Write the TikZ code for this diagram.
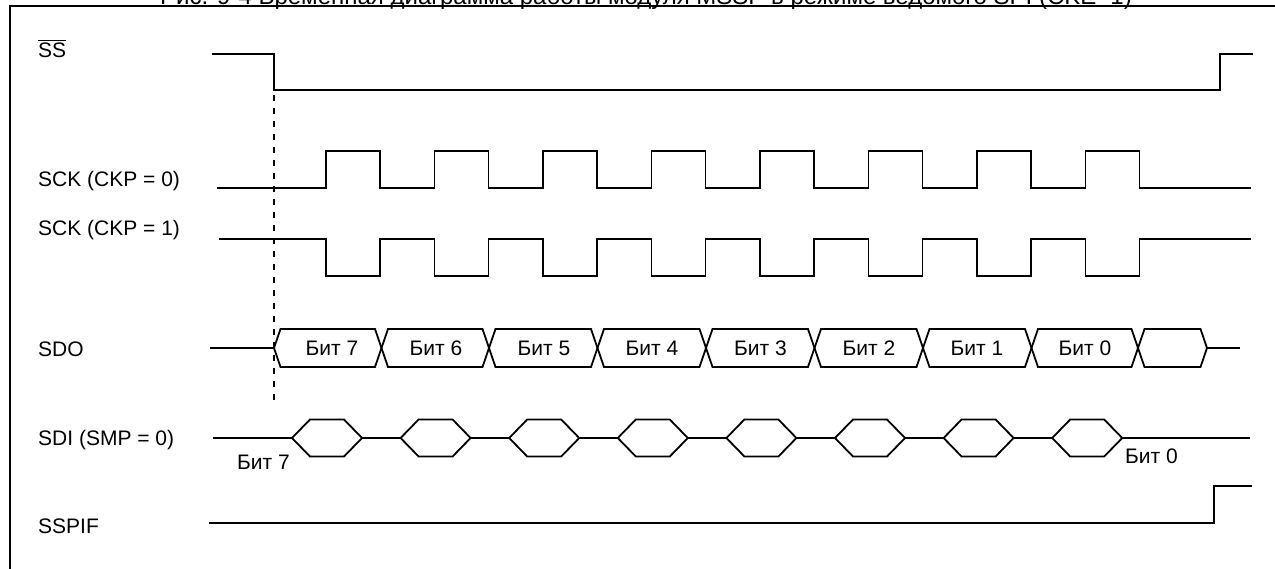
\documentclass[tikz,border=0pt]{standalone}
\usepackage{fontspec}
\usepackage{amsmath}
\setmainfont{Liberation Sans}

\begin{document}
\begin{tikzpicture}[
    x=1pt, y=-1pt,
    every node/.style={inner sep=0pt, font=\fontsize{21}{25}\selectfont},
    sig/.style={draw=black, line width=1.8pt, line join=miter},
    cell/.style={sig, fill=white},
    marker/.style={draw=black, line width=1.5pt, dash pattern=on 6pt off 7pt},
    frame/.style={draw=black, line width=1.6pt},
    rowlabel/.style={anchor=base west},
    bitlabel/.style={anchor=base}
]
\useasboundingbox (0,0) rectangle (1275,569);
\node[anchor=base, font=\fontsize{24}{28}\selectfont] (title) at (646,4.5) {Рис. 9-4 Временная диаграмма работы модуля MSSP в режиме ведомого SPI (CKE=1)};
\draw[frame] (10,569) -- (10,6) -- (1275,6);

\node[rowlabel] (lblss) at (38,58) {$\overline{\text{SS}}$};
\node[rowlabel] (lblsckzero) at (38,187) {SCK (CKP = 0)};
\node[rowlabel] (lblsckone) at (38,236) {SCK (CKP = 1)};
\node[rowlabel] (lblsdo) at (38,356) {SDO};
\node[rowlabel] (lblsdi) at (38,445) {SDI (SMP = 0)};
\node[rowlabel] (lblsspif) at (38,533) {SSPIF};

\draw[sig] (212,54) -- (274,54) -- (274,90) -- (1220,90) -- (1220,54) -- (1253,54);
\draw[sig] (217,188) \foreach \i in {0,...,7} { -- (326+108.5*\i,188) -- ++(0,-37) -- ++(54,0) -- ++(0,37) } -- (1251,188);
\draw[sig] (219,239) \foreach \i in {0,...,7} { -- (326+108.5*\i,239) -- ++(0,37) -- ++(54,0) -- ++(0,-37) } -- (1251,239);

\draw[sig] (210,348) -- (274,348);
\draw[sig] (1207,348) -- (1240,348);
\foreach \a/\b in {274/381.5, 381.5/489, 489/597.5, 597.5/706, 706/814.5, 814.5/923, 923/1031.5, 1031.5/1138, 1138/1207}
  \draw[sig] (\a,348) -- (\a+6.5,329) -- (\b-6.5,329) -- (\b,348) -- (\b-6.5,367) -- (\a+6.5,367) -- cycle;
\foreach \n/\x in {7/332, 6/436, 5/544, 4/652, 3/760.5, 2/869, 1/977, 0/1085}
  \node[bitlabel] (sdobit\n) at (\x,355.5) {Бит \n};

\draw[sig] (213,438) -- (1250,438);
\foreach \i in {0,...,7} {
  \pgfmathsetmacro\c{327+108.6*\i}
  \draw[cell] (\c-35,438) -- (\c-17,419.5) -- (\c+17,419.5) -- (\c+35,438) -- (\c+17,456.5) -- (\c-17,456.5) -- cycle;
}
\node[rowlabel] (sdibitfirst) at (237,469) {Бит 7};
\node[rowlabel] (sdibitlast) at (1125,463) {Бит 0};

\draw[sig] (209,523) -- (1214,523) -- (1214,486) -- (1252,486);

\draw[marker] (274,95) -- (274,406);
\end{tikzpicture}
\end{document}
